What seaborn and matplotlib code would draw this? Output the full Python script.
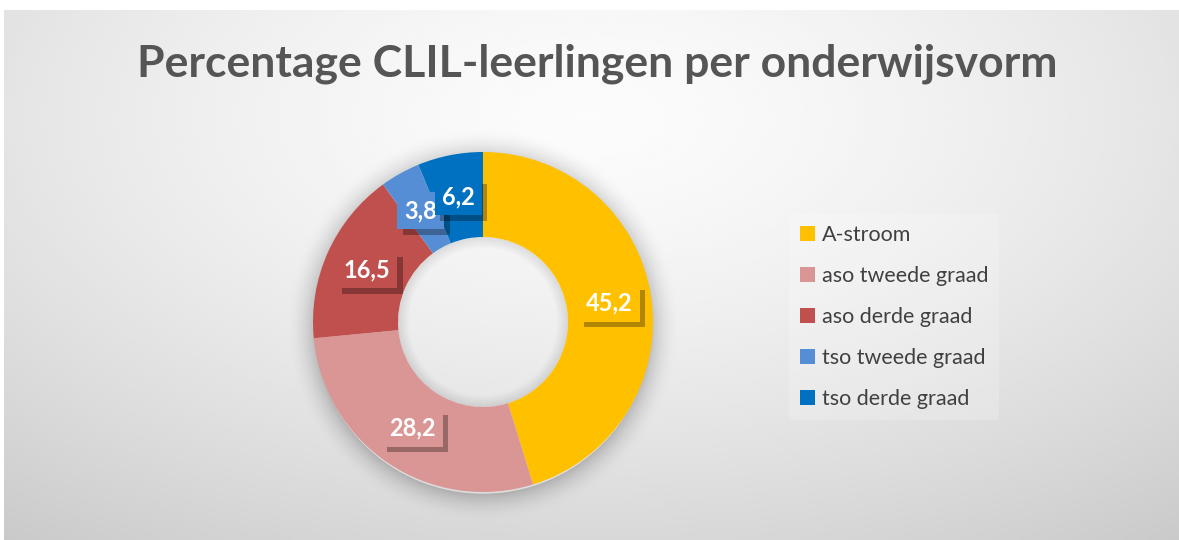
import numpy as np
import matplotlib
matplotlib.use("Agg")
import matplotlib.pyplot as plt
import seaborn as sns
from matplotlib import patheffects as pe
from matplotlib.patches import Wedge

categories = ["A-stroom", "aso tweede graad", "aso derde graad", "tso tweede graad", "tso derde graad"]
values = [45.2, 28.2, 16.5, 3.8, 6.2]
value_labels = ["45,2", "28,2", "16,5", "3,8", "6,2"]
title = "Percentage CLIL-leerlingen per onderwijsvorm"

sns.set_theme(style="white")
plt.rcParams["font.family"] = ["Lato", "DejaVu Sans"]
colors = sns.color_palette(["#FFC000", "#DA9694", "#C0504D", "#558ED5", "#0070C0"])

W, H = 1179, 540
fig = plt.figure(figsize=(W / 100, H / 100), dpi=100)
fig.patch.set_facecolor("white")

# grey radial background of the chart area, lightest near the top middle
bg = fig.add_axes([4 / W, 0, (W - 4) / W, (H - 10) / H])
yy, xx = np.mgrid[0:1:300j, 0:1:600j]
r = np.sqrt(((xx - 0.5) / 0.62) ** 2 + ((yy - 0.8) / 0.75) ** 2)
shade = 0.985 - 0.125 * r ** 1.5
bg.imshow(shade, cmap="gray", vmin=0, vmax=1, aspect="auto", origin="lower",
          extent=[0, 1, 0, 1], interpolation="bicubic")
bg.set_axis_off()

# donut
cx, cy, rad, pad = 483, 540 - 322, 170, 200
ax = fig.add_axes([(cx - pad) / W, (cy - pad) / H, 2 * pad / W, 2 * pad / H])
ax.set_axis_off()

# soft shadow around the ring and inside the hole
for k in range(14):
    ax.add_patch(Wedge((0, -0.02), 1.0 + 0.012 * k, 0, 360, width=0.012 * k + 0.01,
                       color="black", alpha=0.012 * (14 - k) / 7, lw=0))
for k in range(8):
    ax.add_patch(Wedge((0, 0), 0.5, 0, 360, width=0.008 * (k + 1),
                       color="black", alpha=0.012, lw=0))

wedges, _ = ax.pie(values, colors=colors, startangle=90, counterclock=False,
                   radius=1.0, wedgeprops=dict(width=0.5, linewidth=0))
lim = pad / rad
ax.set_xlim(-lim, lim)
ax.set_ylim(-lim, lim)

for w, lab, col in zip(wedges, value_labels, colors):
    ang = np.deg2rad((w.theta1 + w.theta2) / 2)
    x, y = 0.75 * np.cos(ang), 0.75 * np.sin(ang)
    t = ax.text(x, y, lab, ha="center", va="center", color="white",
                fontsize=17, fontweight="bold", zorder=5,
                bbox=dict(boxstyle="square,pad=0.3", facecolor=col, edgecolor="none"))
    t.get_bbox_patch().set_path_effects([
        pe.SimplePatchShadow(offset=(4, -4), shadow_rgbFace="black", alpha=0.3),
        pe.Normal()])

fig.text(597 / W, 1 - 64 / H, title, ha="center", va="center",
         fontsize=32, fontweight="bold", color="#555555")

leg = fig.legend(wedges, categories, loc="center left",
                 bbox_to_anchor=(778 / W, 1 - 317 / H), frameon=True,
                 fontsize=15.5, handlelength=0.7, handleheight=0.7,
                 handletextpad=0.35, labelspacing=0.98, borderpad=0.5)
leg.get_frame().set_facecolor("white")
leg.get_frame().set_alpha(0.2)
leg.get_frame().set_edgecolor("none")
for txt in leg.get_texts():
    txt.set_color("#404040")

fig.savefig("out.png", dpi=100)
